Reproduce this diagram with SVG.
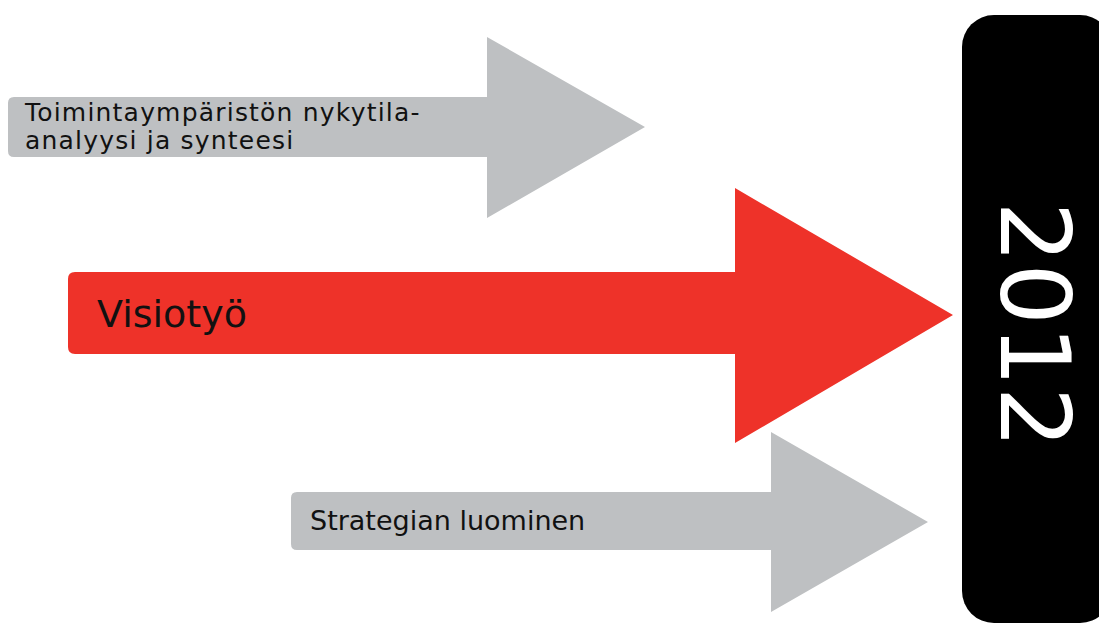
<svg xmlns="http://www.w3.org/2000/svg" width="1099" height="630" viewBox="0 0 1099 630">
<style>
.gray{fill:#bec0c2}
.red{fill:#ee3229}
.lbl{font-family:"DejaVu Sans",Verdana,sans-serif;fill:#111}
</style>
<rect width="1099" height="630" fill="#fff"/>
<g id="bar2012">
<rect x="962" y="15" width="150" height="608" rx="32" fill="#000"/>
<text transform="translate(1001,325) rotate(90)" text-anchor="middle" font-family="DejaVu Sans,Verdana,sans-serif" font-size="97" fill="#fff">2012</text>
</g>
<g id="arrow-top">
<path class="gray" d="M14,97 L487,97 L487,37 L645,127 L487,218 L487,157 L14,157 Q8,157 8,151 L8,103 Q8,97 14,97 Z"/>
<text class="lbl" font-size="25" letter-spacing="1.2"><tspan x="25" y="121">Toimintaympäristön nykytila-</tspan><tspan x="25" y="149">analyysi ja synteesi</tspan></text>
</g>
<g id="arrow-red">
<path class="red" d="M75,272 L735,272 L735,188 L953,315 L735,443 L735,354 L75,354 Q68,354 68,347 L68,279 Q68,272 75,272 Z"/>
<text class="lbl" x="97" y="327" font-size="38">Visiotyö</text>
</g>
<g id="arrow-bottom">
<path class="gray" d="M297,492 L771,492 L771,432 L928,522 L771,612 L771,550 L297,550 Q291,550 291,544 L291,498 Q291,492 297,492 Z"/>
<text class="lbl" x="310" y="530" font-size="27">Strategian luominen</text>
</g>
<g id="connectors"/>
</svg>
